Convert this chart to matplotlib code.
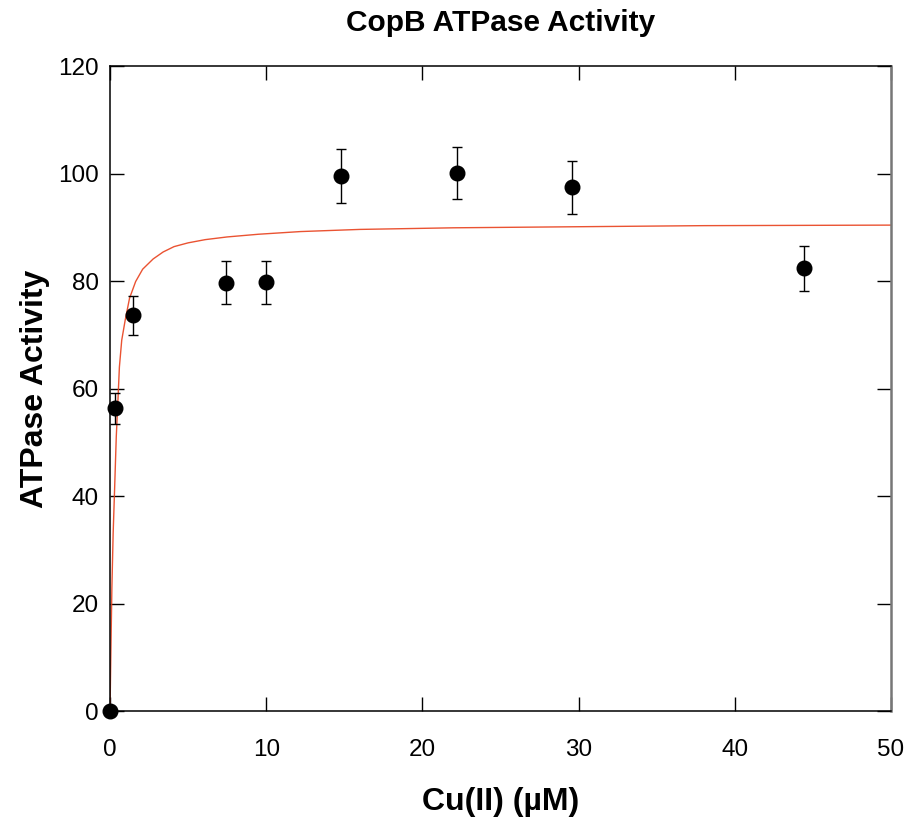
import matplotlib.pyplot as plt

plt.rcParams['font.family'] = ['Liberation Sans', 'DejaVu Sans']

# measured points
cu = [0, 0.3, 1.5, 7.4, 10, 14.8, 22.2, 29.6, 44.4]
activity = [0, 56.3, 73.6, 79.7, 79.8, 99.6, 100.1, 97.4, 82.4]
err = [0, 2.9, 3.6, 4.0, 4.0, 5.0, 4.9, 4.9, 4.2]

# fitted curve
fit_x = [0, 0.05, 0.12, 0.2, 0.29, 0.4, 0.51, 0.6, 0.75, 0.97, 1.25, 1.64,
         2.09, 2.76, 3.4, 4.1, 5.0, 6.1, 7.5, 9.5, 12.2, 16, 22, 30, 38, 50]
fit_y = [0, 10, 23, 33, 41, 51, 58, 64, 69, 72.7, 76.8, 79.9,
         82.2, 84.1, 85.4, 86.4, 87.1, 87.7, 88.2, 88.7, 89.2, 89.6, 89.9, 90.1, 90.3, 90.4]

fig = plt.figure(figsize=(9.07, 8.22), dpi=100)
ax = fig.add_axes([0.1213, 0.135, 0.8611, 0.7847])

ax.plot(fit_x, fit_y, color='#e8401c', lw=1, alpha=0.9, zorder=2)
ax.errorbar(cu, activity, yerr=err, fmt='o', color='black', ms=10.5,
            ecolor='black', elinewidth=1, capsize=3.8, capthick=1, zorder=3,
            clip_on=False)

ax.set_xlim(0, 50)
ax.set_ylim(0, 120)
ax.set_xticks([0, 10, 20, 30, 40, 50])
ax.set_yticks([0, 20, 40, 60, 80, 100, 120])
ax.tick_params(direction='in', length=10, width=1, labelsize=17.5,
               top=True, right=True)
ax.tick_params(axis='x', pad=20)
ax.tick_params(axis='y', pad=8)
for s in ['left', 'bottom', 'top']:
    ax.spines[s].set_linewidth(1.1)
ax.spines['right'].set_linewidth(1.8)
ax.spines['right'].set_color('#777777')

ax.set_title('CopB ATPase Activity', fontsize=21.5, fontweight='bold', pad=25)
ax.set_xlabel('Cu(II) (µM)', fontsize=23, fontweight='bold', labelpad=19)
ax.set_ylabel('ATPase Activity', fontsize=23, fontweight='bold', labelpad=6)

fig.savefig('out.png', dpi=100)
